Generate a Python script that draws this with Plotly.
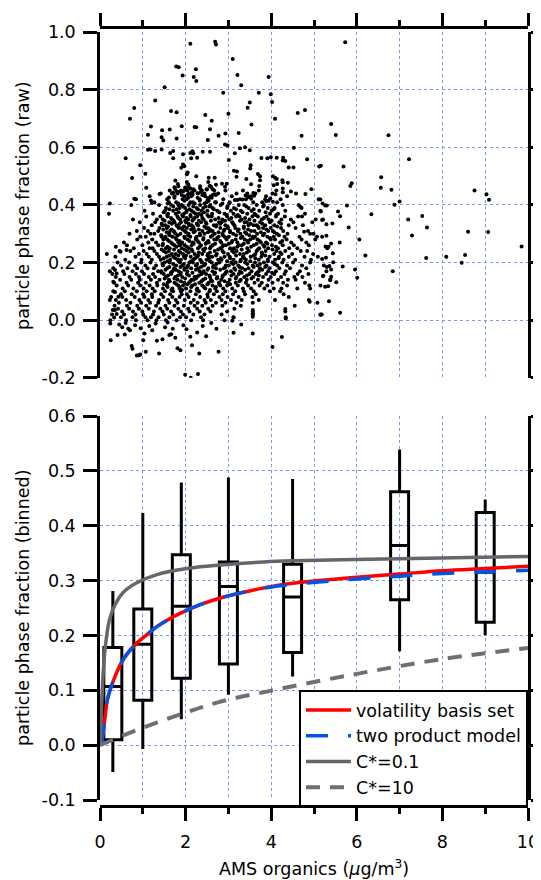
import plotly.graph_objects as go

# ---------------- data: top panel (raw particle phase fraction) ----------------
# isolated / fringe points: (AMS organics, fraction)
sparse_points = [
    (2.11,0.960),(2.69,0.967),(2.71,0.958),(3.10,0.907),(1.78,0.881),(1.84,0.879),(2.24,0.872),(1.93,0.850),
    (2.19,0.845),(2.25,0.831),(3.21,0.852),(3.30,0.816),(3.94,0.845),(1.51,0.809),(2.88,0.790),(3.71,0.790),
    (3.99,0.785),(4.02,0.758),(1.29,0.763),(0.80,0.737),(0.70,0.700),(1.66,0.727),(1.79,0.722),(3.50,0.756),
    (3.45,0.738),(2.46,0.713),(3.00,0.717),(2.61,0.693),(4.09,0.700),(4.62,0.720),(4.79,0.730),(1.19,0.673),
    (1.45,0.660),(1.63,0.662),(1.91,0.674),(2.21,0.671),(2.25,0.670),(3.54,0.680),(2.57,0.663),(1.12,0.644),
    (1.44,0.635),(1.48,0.624),(1.79,0.631),(2.52,0.626),(2.77,0.641),(2.93,0.648),(3.24,0.650),(4.71,0.641),
    (2.92,0.610),(2.98,0.607),(1.12,0.592),(1.18,0.593),(1.29,0.588),(1.44,0.593),(1.64,0.581),(1.71,0.588),
    (1.94,0.576),(2.11,0.581),(2.16,0.587),(2.40,0.585),(2.57,0.585),(2.27,0.564),(2.13,0.562),(2.18,0.580),
    (1.71,0.562),(3.15,0.580),(3.27,0.597),(3.39,0.601),(3.50,0.590),(4.53,0.599),(0.60,0.562),(3.01,0.556),
    (0.94,0.538),(1.94,0.541),(1.90,0.529),(1.97,0.535),(2.03,0.507),(2.05,0.513),(1.06,0.509),(0.75,0.494),
    (1.08,0.460),(2.25,0.500),(3.13,0.519),(3.20,0.516),(3.52,0.538),(3.51,0.527),(3.77,0.563),(3.91,0.562),
    (3.99,0.566),(4.13,0.564),(4.28,0.564),(4.33,0.553),(4.27,0.555),(4.41,0.530),(4.52,0.530),(4.84,0.559),
    (5.12,0.534),(3.19,0.498),(3.42,0.490),(3.53,0.472),(3.69,0.508),(3.74,0.500),(3.74,0.486),(3.72,0.466),
    (4.04,0.500),(4.09,0.495),(4.13,0.490),(4.14,0.473),(4.06,0.469),(4.26,0.486),(4.27,0.479),(4.39,0.477),
    (4.27,0.457),(4.46,0.447),(4.10,0.437),(4.80,0.438),(4.94,0.455),(0.80,0.422),(0.23,0.405),(1.39,0.438),
    (1.19,0.416),(1.21,0.407),(1.61,0.426),(1.58,0.405),(1.76,0.485),(1.82,0.473),(1.74,0.462),(1.71,0.443),
    (2.03,0.480),(2.06,0.472),(1.99,0.461),(2.04,0.452),(2.11,0.457),(2.15,0.444),(1.80,0.446),(1.87,0.446),
    (1.95,0.448),(2.05,0.436),(2.16,0.437),(2.28,0.441),(2.34,0.458),(2.36,0.446),(2.42,0.434),(2.54,0.495),
    (2.68,0.495),(2.53,0.480),(2.56,0.466),(2.50,0.454),(2.60,0.462),(2.71,0.470),(2.64,0.436),(2.68,0.437),
    (2.54,0.424),(2.51,0.415),(2.69,0.410),(2.96,0.474),(2.92,0.463),(2.85,0.474),(3.02,0.405),(3.15,0.417),
    (3.21,0.417),(3.33,0.419),(3.40,0.433),(3.44,0.440),(3.58,0.442),(3.60,0.432),(3.53,0.422),(3.47,0.428),
    (3.88,0.414),(3.94,0.415),(3.98,0.423),(4.04,0.411),(4.27,0.444),(5.15,0.419),
    (5.73,0.965),(5.40,0.681),(5.51,0.643),(6.74,0.642),(7.22,0.559),(5.16,0.536),(5.69,0.534),(6.57,0.496),
    (6.56,0.460),(6.81,0.453),(5.88,0.476),(5.85,0.466),(7.00,0.412),(6.88,0.401),(8.75,0.450),(9.03,0.437),
    (9.09,0.418),(5.77,0.398),(5.56,0.377),(5.61,0.361),(6.34,0.368),(7.20,0.350),(7.53,0.362),(7.64,0.322),
    (7.29,0.294),(8.60,0.307),(9.07,0.306),(9.85,0.256),(6.06,0.280),(5.81,0.322),(5.43,0.336),(5.29,0.333),
    (5.19,0.348),(5.29,0.293),(5.60,0.270),(5.40,0.266),(5.27,0.256),(6.20,0.225),(7.62,0.216),(8.09,0.220),
    (8.53,0.226),(8.45,0.199),(5.44,0.232),(5.28,0.217),(5.19,0.212),(5.45,0.201),(5.36,0.188),(5.30,0.185),
    (5.40,0.176),(5.67,0.186),(5.96,0.176),(6.84,0.170),(6.01,0.147),(5.22,0.154),(5.40,0.151),(5.38,0.141),
    (5.52,0.132),(5.26,0.116),(5.33,0.118),(5.35,0.066),(5.61,0.026),(5.18,0.020),(5.20,0.405),(5.26,0.398),
    (5.30,0.398),(5.16,0.377),
    (4.68,0.394),(4.72,0.360),(5.15,0.380),(5.21,0.350),(4.77,0.307),(4.99,0.300),(5.07,0.290),(5.34,0.255),
    (5.21,0.153),(5.38,0.139),(5.15,0.120),(4.91,0.110),(4.88,0.070),
    (0.25,-0.070),(0.41,-0.052),(0.58,-0.050),(0.74,-0.090),(0.76,-0.099),(0.86,-0.123),(0.91,-0.122),
    (0.94,-0.119),(1.07,-0.110),(1.38,-0.116),(1.01,-0.070),(1.04,-0.046),(1.33,-0.072),(1.46,-0.066),
    (1.66,-0.049),(1.62,-0.052),(1.76,-0.061),(1.88,-0.105),(1.81,-0.098),(1.99,-0.190),(2.12,-0.200),
    (2.29,-0.187),(2.11,-0.058),(2.15,-0.087),(2.32,-0.116),(2.27,-0.043),(2.48,-0.056),(2.77,-0.110),
    (3.12,-0.044),(3.57,-0.046),(4.03,-0.093),(4.25,-0.059),(4.33,0.039),(4.34,0.006),(4.90,0.064),
    (5.15,0.019),(3.57,0.035),(3.57,0.023),(3.57,0.012),(3.12,0.009),(3.09,-0.002),(0.24,-0.012),
    (0.33,0.009),(0.39,0.021),(0.35,0.035),(0.45,-0.015),(0.52,-0.025),(0.60,-0.010),(0.66,-0.030),
    (0.70,-0.035),(0.82,-0.018),(0.95,-0.028),(1.15,-0.020),(1.22,-0.035),(1.30,-0.012),(1.52,-0.025),
    (1.58,-0.008),(1.70,-0.030),(1.95,-0.018),(2.02,-0.032),(2.40,-0.020),(2.60,-0.010),(2.72,-0.030),
    (3.30,-0.015),(0.37,0.255),(0.48,0.238),(0.62,0.244),(0.35,0.174),(0.39,0.162),(0.31,0.133),
    (0.35,0.098),(0.43,0.081),(0.23,0.070),(0.30,0.035),
]

# dense core of the cloud, estimated level by level: fraction level -> organics values
core_rows_y = [0.45,0.43,0.44,0.42, 0.41,0.39,0.40,0.38, 0.37,0.35,0.36,0.34, 0.33,0.31,0.32,0.30,
               0.29,0.27,0.28,0.26, 0.25,0.23,0.24,0.22, 0.21,0.19,0.20,0.18, 0.17,0.15,0.16,0.14,
               0.13,0.11,0.12,0.10, 0.09,0.07,0.08,0.06, 0.05,0.03,0.04,0.02, 0.01,0.00]
core_rows_x = [
    [1.63,1.89,2.04,2.21,2.38,2.67,2.93,3.34,3.71,4.12],
    [1.16,1.74,1.97,2.13,2.46,2.59,3.08,3.52,3.88,4.37],
    [1.42,1.68,1.81,2.08,2.29,2.44,2.76,3.19,3.63,4.03,4.58],
    [0.84,1.57,1.93,2.02,2.33,2.52,2.88,3.27,3.41,3.86,4.22,5.11],
    [1.27,1.61,1.78,2.11,2.17,2.49,2.71,3.03,3.58,3.79,4.14],
    [1.54,1.86,1.99,2.26,2.41,2.63,2.97,3.13,3.47,3.92,4.08,4.71],
    [0.73,1.38,1.66,1.83,1.91,2.07,2.34,2.58,2.82,3.24,3.37,3.66,3.83,4.27,4.64],
    [1.04,1.52,1.71,2.03,2.14,2.37,2.51,2.74,3.06,3.29,3.54,3.72,4.01,4.33],
    [0.21,1.24,1.59,1.77,1.96,2.23,2.31,2.62,2.91,3.12,3.44,3.61,3.97,4.16,4.79],
    [0.77,1.33,1.47,1.69,1.87,2.06,2.18,2.42,2.69,2.86,3.02,3.31,3.49,3.78,3.94,4.24,4.46,5.04],
    [1.08,1.41,1.58,1.81,1.94,2.12,2.27,2.54,2.61,2.97,3.18,3.26,3.56,3.69,3.89,4.11,4.32,4.63],
    [0.93,1.29,1.62,1.74,1.89,2.01,2.36,2.47,2.78,2.84,3.09,3.38,3.43,3.74,3.97,4.19,4.52,4.96],
    [1.21,1.46,1.53,1.79,2.09,2.14,2.29,2.66,2.72,2.93,3.14,3.47,3.59,3.66,3.86,4.07,4.41,4.74],
    [0.86,1.12,1.36,1.64,1.72,1.98,2.22,2.39,2.57,2.63,2.89,3.04,3.22,3.53,3.61,3.93,4.04,4.28,4.86],
    [1.03,1.39,1.56,1.84,1.91,2.03,2.19,2.48,2.53,2.81,2.99,3.16,3.36,3.71,3.81,3.99,4.23,4.57],
    [0.69,1.18,1.27,1.61,1.76,1.88,2.07,2.33,2.44,2.68,2.86,3.11,3.28,3.42,3.67,3.84,4.13,4.38,4.91],
    [0.94,1.07,1.44,1.53,1.69,1.97,2.11,2.26,2.59,2.77,2.91,3.01,3.33,3.57,3.62,3.91,4.06,4.31,4.66,5.19],
    [0.56,1.13,1.31,1.66,1.83,1.92,2.17,2.31,2.49,2.54,2.83,3.07,3.21,3.46,3.76,3.88,4.21,4.47,4.82],
    [0.87,1.22,1.48,1.57,1.79,2.04,2.24,2.41,2.67,2.72,2.96,3.17,3.38,3.51,3.68,3.99,4.09,4.36,4.71,5.03],
    [0.63,0.99,1.36,1.46,1.74,1.86,1.98,2.14,2.36,2.63,2.88,2.94,3.24,3.31,3.59,3.82,4.02,4.27,4.53,4.88],
    [0.79,1.16,1.23,1.54,1.63,1.91,2.08,2.29,2.46,2.57,2.81,3.04,3.13,3.44,3.72,3.93,4.16,4.42,4.61,5.31],
    [0.16,0.91,1.09,1.33,1.68,1.77,1.94,2.21,2.39,2.52,2.73,2.99,3.27,3.36,3.63,3.79,4.07,4.24,4.49,4.98],
    [0.46,0.71,1.02,1.27,1.49,1.61,1.84,2.02,2.16,2.43,2.68,2.86,3.09,3.19,3.48,3.66,3.87,4.12,4.33,4.69,4.84],
    [0.36,0.83,1.14,1.38,1.56,1.71,1.96,2.12,2.27,2.56,2.62,2.91,3.03,3.34,3.52,3.77,3.96,4.18,4.41,4.78,5.09],
    [0.59,0.97,1.21,1.42,1.64,1.82,1.89,2.18,2.34,2.49,2.76,2.84,3.12,3.29,3.41,3.71,3.92,4.09,4.29,4.56,4.93],
    [0.49,0.82,1.06,1.31,1.47,1.78,1.93,2.06,2.24,2.43,2.66,2.94,3.01,3.23,3.57,3.68,3.89,4.14,4.37,4.72,5.23],
    [0.41,0.68,0.96,1.18,1.51,1.63,1.87,2.09,2.17,2.38,2.61,2.79,3.07,3.17,3.39,3.62,3.83,4.04,4.26,4.51,4.91],
    [0.31,0.64,0.87,1.11,1.26,1.57,1.73,1.98,2.13,2.29,2.53,2.71,2.89,3.14,3.32,3.47,3.74,3.96,4.19,4.44,4.82],
    [0.23,0.54,0.76,0.98,1.36,1.43,1.69,1.84,2.04,2.33,2.42,2.63,2.96,3.06,3.27,3.54,3.71,3.93,4.11,4.34,4.67,5.29],
    [0.37,0.69,0.91,1.14,1.29,1.54,1.76,1.92,2.21,2.26,2.57,2.74,2.86,3.19,3.37,3.58,3.81,3.99,4.23,4.54,4.73],
    [0.29,0.57,0.84,1.03,1.24,1.49,1.66,1.88,2.03,2.37,2.48,2.67,2.92,3.12,3.24,3.49,3.64,3.88,4.07,4.31,4.62,4.87],
    [0.47,0.73,0.93,1.19,1.39,1.61,1.81,2.14,2.19,2.41,2.59,2.83,3.03,3.29,3.43,3.69,3.94,4.16,4.39,4.57],
    [0.33,0.62,0.89,1.07,1.33,1.58,1.74,1.97,2.08,2.32,2.54,2.78,2.99,3.17,3.41,3.61,3.78,4.03,4.28,4.79],
    [0.53,0.78,1.02,1.23,1.47,1.69,1.86,2.01,2.27,2.46,2.69,2.88,3.09,3.34,3.53,3.84,4.06,4.24,4.61],
    [0.39,0.66,0.94,1.16,1.34,1.56,1.83,1.94,2.16,2.39,2.63,2.81,2.97,3.22,3.46,3.73,3.91,4.37,4.89],
    [0.31,0.58,0.86,1.09,1.28,1.52,1.71,1.89,2.11,2.31,2.56,2.73,2.93,3.16,3.36,3.59,3.97,4.21],
    [0.49,0.74,1.01,1.21,1.43,1.64,1.91,2.03,2.24,2.51,2.66,2.87,3.11,3.39,3.64,4.29],
    [0.37,0.61,0.92,1.13,1.38,1.59,1.77,1.98,2.19,2.44,2.59,2.84,3.06,3.31,3.71,4.09],
    [0.26,0.52,0.81,1.04,1.22,1.48,1.69,1.86,2.07,2.34,2.52,2.79,2.98,3.24,3.56,4.41],
    [0.44,0.71,0.96,1.17,1.36,1.62,1.81,2.12,2.28,2.47,2.71,2.93,3.19,3.57,5.08],
    [0.34,0.63,0.87,1.08,1.31,1.53,1.74,1.96,2.21,2.39,2.63,2.86,3.29,4.55],
    [0.52,0.77,0.99,1.26,1.46,1.66,1.89,2.09,2.33,2.58,2.97,3.57,4.33],
    [0.42,0.68,0.91,1.14,1.41,1.57,1.83,2.06,2.27,2.53,3.14],
    [0.28,0.56,0.83,1.01,1.24,1.49,1.71,1.94,2.18,2.44,2.84,3.57,5.15],
    [0.49,0.76,1.06,1.19,1.37,1.62,1.87,2.01,2.36,3.12,4.34],
    [0.24,0.61,0.84,1.11,1.32,1.54,1.79,2.13,2.41,2.91],
]

# extra points filling the darkest part of the cloud (half levels)
dense_rows_y = [0.465,0.455,0.435,0.425,0.415,0.405,0.395,0.385,0.375,0.365,0.355,0.345,0.335,0.325,
                0.315,0.305,0.295,0.285,0.275,0.265,0.255,0.245,0.235,0.225,0.215,0.205,0.195,0.185,
                0.175,0.165,0.155,0.145,0.135,0.125,0.115,0.105]
dense_rows_x = [
    [1.83,2.07,2.34,2.58],
    [1.76,1.99,2.18,2.49,2.63],
    [1.91,2.16,2.39,2.71],
    [1.74,2.06,2.28,2.61],
    [1.97,2.33,2.54],
    [1.83,2.21,2.44,2.86],
    [1.71,1.94,2.18,2.47,2.56,2.98,3.42,3.81],
    [1.62,1.79,2.09,2.29,2.66,3.18,3.59,4.06],
    [1.49,1.84,2.01,2.19,2.43,2.79,3.33,3.87],
    [1.57,1.92,2.11,2.37,2.51,2.96,3.22,3.64,4.12],
    [1.66,1.83,2.02,2.21,2.39,2.77,3.07,3.39,3.83],
    [1.51,1.72,1.99,2.16,2.31,2.59,2.92,3.27,3.61,4.01],
    [1.44,1.68,1.86,2.07,2.26,2.49,2.81,3.11,3.52,3.79,4.23],
    [1.59,1.81,1.96,2.17,2.44,2.71,2.98,3.36,3.69,4.14],
    [1.48,1.67,1.93,2.13,2.31,2.57,2.91,3.24,3.46,3.89],
    [1.56,1.74,2.01,2.19,2.52,2.77,3.04,3.39,3.76,4.07],
    [1.43,1.63,1.82,2.06,2.34,2.63,2.87,3.18,3.49,3.81,4.18],
    [1.52,1.77,1.98,2.24,2.42,2.74,2.94,3.29,3.58,3.97],
    [1.61,1.86,2.09,2.28,2.53,2.81,3.09,3.44,3.73,4.26],
    [1.47,1.69,1.91,2.19,2.47,2.69,3.01,3.36,3.66,3.91],
    [1.58,1.79,2.03,2.33,2.59,2.86,3.21,3.53,3.84,4.11],
    [1.44,1.73,1.97,2.14,2.41,2.76,3.08,3.31,3.69,4.03],
    [1.54,1.88,2.07,2.31,2.57,2.89,3.13,3.43,3.78,4.21],
    [1.62,1.83,2.01,2.29,2.51,2.71,3.18,3.59,3.86],
    [1.49,1.76,1.99,2.22,2.54,2.82,3.04,3.37,3.63,4.17],
    [1.58,1.84,2.13,2.37,2.57,2.97,3.28,3.51,3.92],
    [1.46,1.71,1.96,2.27,2.46,2.72,3.11,3.44,3.74,4.08],
    [1.62,1.88,2.04,2.36,2.64,2.93,3.26,3.59,3.86],
    [1.53,1.77,1.97,2.24,2.51,2.81,3.16,3.39,3.79],
    [1.44,1.66,1.89,2.16,2.41,2.69,2.94,3.31,3.67,4.02],
    [1.59,1.82,2.08,2.31,2.56,2.87,3.07,3.43,3.71],
    [1.51,1.74,1.99,2.24,2.46,2.73,3.17,3.54],
    [1.63,1.89,2.11,2.37,2.62,2.91,3.26],
    [1.49,1.79,2.04,2.22,2.51,2.79,3.04],
    [1.58,1.86,2.13,2.43,2.71],
    [1.67,1.92,2.26,2.57],
]

raw_x = [p[0] for p in sparse_points]
raw_y = [p[1] for p in sparse_points]
for yv, xs in list(zip(core_rows_y, core_rows_x)) + list(zip(dense_rows_y, dense_rows_x)):
    raw_x.extend(xs)
    raw_y.extend([yv] * len(xs))

# ---------------- data: bottom panel (binned box plots) ----------------
box_x = [0.30, 1.00, 1.90, 3.00, 4.50, 7.00, 9.00]
box_lower = [-0.049, -0.007, 0.047, 0.092, 0.125, 0.171, 0.201]
box_q1 = [0.010, 0.082, 0.122, 0.148, 0.169, 0.265, 0.224]
box_median = [0.107, 0.184, 0.253, 0.289, 0.270, 0.364, 0.315]
box_q3 = [0.178, 0.248, 0.347, 0.334, 0.330, 0.462, 0.424]
box_upper = [0.281, 0.423, 0.479, 0.488, 0.485, 0.539, 0.448]

# model curves
vbs_x = [0.03, 0.08, 0.12, 0.17, 0.25, 0.35, 0.47, 0.62, 0.86, 1.09, 1.33, 1.64, 1.95, 2.34, 2.89, 3.43, 3.98, 4.5, 6.0, 7.0, 8.0, 9.0, 10.0]
vbs_y = [0.0, 0.028, 0.052, 0.082, 0.104, 0.125, 0.146, 0.165, 0.186, 0.201, 0.216, 0.231, 0.243, 0.256, 0.270, 0.280, 0.289, 0.295, 0.306, 0.312, 0.318, 0.322, 0.326]
twoprod_x = [0.03, 0.08, 0.12, 0.17, 0.25, 0.35, 0.47, 0.62, 0.86, 1.09, 1.33, 1.64, 1.95, 2.34, 2.89, 3.43, 3.98, 4.5, 6.0, 7.0, 8.0, 9.0, 10.0]
twoprod_y = [0.0, 0.028, 0.052, 0.082, 0.104, 0.125, 0.146, 0.165, 0.186, 0.201, 0.216, 0.231, 0.243, 0.256, 0.270, 0.280, 0.288, 0.293, 0.303, 0.308, 0.313, 0.316, 0.319]
c01_x = [0.0, 0.03, 0.06, 0.10, 0.14, 0.22, 0.35, 0.55, 0.86, 1.33, 2.03, 2.89, 3.83, 4.5, 7.0, 10.0]
c01_y = [0.0, 0.06, 0.112, 0.160, 0.190, 0.228, 0.256, 0.279, 0.296, 0.311, 0.322, 0.329, 0.334, 0.336, 0.340, 0.344]
c10_x = [0.0, 0.94, 1.91, 2.8, 3.98, 6.0, 8.0, 10.0]
c10_y = [0.0, 0.030, 0.057, 0.079, 0.099, 0.130, 0.157, 0.177]

# ticks
top_yticks = [-0.2, 0.0, 0.2, 0.4, 0.6, 0.8, 1.0]
top_yticktext = ["-0.2", "0.0", "0.2", "0.4", "0.6", "0.8", "1.0"]
bot_yticks = [-0.1, 0.0, 0.1, 0.2, 0.3, 0.4, 0.5, 0.6]
bot_yticktext = ["-0.1", "0.0", "0.1", "0.2", "0.3", "0.4", "0.5", "0.6"]
xticks = [0, 2, 4, 6, 8, 10]
xticktext = ["0", "2", "4", "6", "8", "10"]

# ---------------- figure ----------------
FONT = "DejaVu Sans"
FS = 17.5
GRID = "rgb(120,150,255)"
AX = dict(showline=True, linecolor="black", linewidth=2.5, ticks="outside",
          tickcolor="black", tickwidth=2.5, zeroline=False, automargin=False,
          showgrid=True, gridcolor=GRID, gridwidth=1, griddash="dot",
          tickfont=dict(family=FONT, size=FS, color="black"))

fig = go.Figure()

fig.add_trace(go.Scatter(x=raw_x, y=raw_y, mode="markers", xaxis="x", yaxis="y",
                         marker=dict(size=4, color="black"), showlegend=False, hoverinfo="skip"))

fig.add_trace(go.Box(x=box_x, q1=box_q1, median=box_median, q3=box_q3,
                     lowerfence=box_lower, upperfence=box_upper,
                     xaxis="x2", yaxis="y2", width=0.42, whiskerwidth=0,
                     line=dict(color="black", width=3), fillcolor="rgba(0,0,0,0)",
                     boxpoints=False, showlegend=False, hoverinfo="skip"))

fig.add_trace(go.Scatter(x=vbs_x, y=vbs_y, mode="lines", name="volatility basis set",
                         xaxis="x2", yaxis="y2", line=dict(color="rgb(255,0,0)", width=3.5, shape="spline")))
fig.add_trace(go.Scatter(x=twoprod_x, y=twoprod_y, mode="lines", name="two product model",
                         xaxis="x2", yaxis="y2",
                         line=dict(color="rgb(0,85,230)", width=3.5, dash="22px,20px", shape="spline")))
fig.add_trace(go.Scatter(x=c01_x, y=c01_y, mode="lines", name="C*=0.1",
                         xaxis="x2", yaxis="y2", line=dict(color="rgb(102,102,102)", width=3.5, shape="spline")))
fig.add_trace(go.Scatter(x=c10_x, y=c10_y, mode="lines", name="C*=10",
                         xaxis="x2", yaxis="y2",
                         line=dict(color="rgb(112,112,112)", width=4, dash="14px,10px", shape="spline")))

minor = dict(ticks="outside", ticklen=6, tickwidth=2.5, tickcolor="black", dtick=1, tick0=0,
             showgrid=True, gridcolor=GRID, gridwidth=1, griddash="dot")

# the page adds an 8 px body margin, so the figure is 8 px smaller on each axis
fig.update_layout(
    width=533, height=872,
    margin=dict(l=92, r=13, t=19, b=74),
    paper_bgcolor="white", plot_bgcolor="white",
    font=dict(family=FONT, size=FS, color="black"),
    xaxis=dict(AX, domain=[0, 1], anchor="free", position=1, side="top", range=[0, 10],
               tickmode="array", tickvals=xticks, showticklabels=False, ticklen=13,
               minor=minor, mirror=False),
    yaxis=dict(AX, domain=[0.5498, 0.9932], anchor="x", range=[-0.2, 1.0],
               tickmode="array", tickvals=top_yticks, ticktext=top_yticktext,
               ticklen=14, mirror="ticks", ticklabelstandoff=4),
    xaxis2=dict(AX, domain=[0, 1], anchor="free", position=0, side="bottom", range=[0, 10],
                tickmode="array", tickvals=xticks, ticktext=xticktext, ticklen=13,
                minor=minor, mirror=False, ticklabelstandoff=6),
    yaxis2=dict(AX, domain=[0.0077, 0.5006], anchor="x2", range=[-0.1, 0.6],
                tickmode="array", tickvals=bot_yticks, ticktext=bot_yticktext,
                ticklen=14, mirror="ticks", ticklabelstandoff=4),
    legend=dict(x=1, xanchor="right", y=0.1489, yanchor="top",
                bgcolor="white", bordercolor="black", borderwidth=2,
                font=dict(family=FONT, size=FS, color="black"), itemwidth=45,
                tracegroupgap=0),
    annotations=[
        dict(text="particle phase fraction (raw)", xref="paper", yref="paper",
             x=-0.18, y=0.7715, textangle=-90, showarrow=False,
             xanchor="center", yanchor="middle", font=dict(family=FONT, size=FS)),
        dict(text="particle phase fraction (binned)", xref="paper", yref="paper",
             x=-0.18, y=0.2542, textangle=-90, showarrow=False,
             xanchor="center", yanchor="middle", font=dict(family=FONT, size=FS)),
        dict(text="AMS organics (<i>μ</i>g/m<sup>3</sup>)", xref="paper", yref="paper",
             x=0.5, y=-0.0796, showarrow=False, xanchor="center", yanchor="middle",
             font=dict(family=FONT, size=FS)),
    ],
)

fig.write_html("out.html")
